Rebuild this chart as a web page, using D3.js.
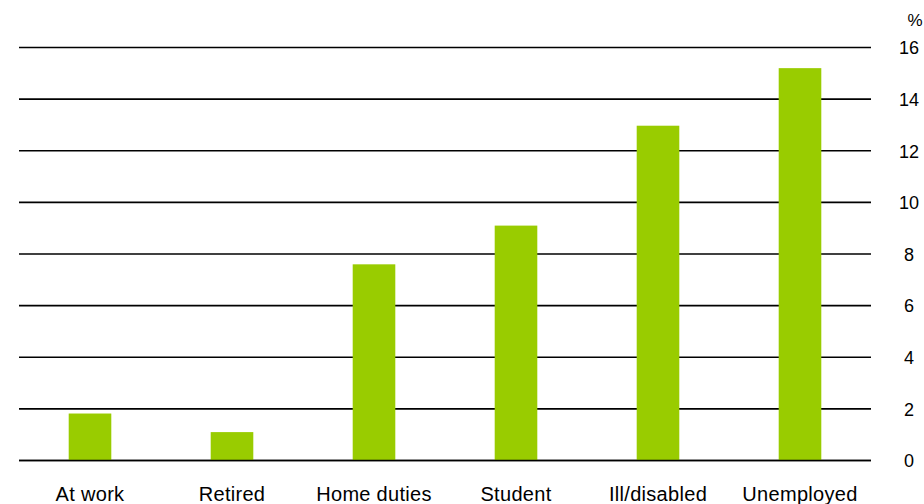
<!DOCTYPE html>
<html>
<head>
<meta charset="utf-8">
<script src="https://cdn.jsdelivr.net/npm/d3@7/dist/d3.min.js"></script>
<style>
  html, body { margin: 0; padding: 0; background: #fff; }
  svg { display: block; }
  text { font-family: "Liberation Sans", Arial, sans-serif; fill: #000; }
</style>
</head>
<body>
<svg id="chart" width="924" height="504"></svg>
<script>
const categories = ["At work", "Retired", "Home duties", "Student", "Ill/disabled", "Unemployed"];
const values = [1.82, 1.1, 7.6, 9.1, 12.97, 15.2];
const yTicks = [0, 2, 4, 6, 8, 10, 12, 14, 16];
const unitLabel = "%";

(function () {
const svg = d3.select("#chart");
const mLeft = 19, mRight = 871, mTop = 47.5, mBottom = 460.5;

const x = d3.scaleBand().domain(categories).range([mLeft, mRight]).paddingInner(0.7).paddingOuter(0.35);
const y = d3.scaleLinear().domain([0, 16]).range([mBottom, mTop]);

// gridlines
svg.append("g").selectAll("line").data(yTicks).join("line")
  .attr("x1", mLeft).attr("x2", mRight)
  .attr("y1", d => y(d)).attr("y2", d => y(d))
  .attr("stroke", "#000").attr("stroke-width", 1.6);

// bars
svg.append("g").selectAll("rect").data(values).join("rect")
  .attr("x", (d, i) => x(categories[i]))
  .attr("width", x.bandwidth())
  .attr("y", d => y(d))
  .attr("height", d => y(0) - y(d))
  .attr("fill", "#99cc00");

// redraw zero line on top
svg.append("line")
  .attr("x1", mLeft).attr("x2", mRight)
  .attr("y1", y(0)).attr("y2", y(0))
  .attr("stroke", "#000").attr("stroke-width", 1.6);

// right axis labels
const yAxis = d3.axisRight(y).tickValues(yTicks).tickSize(0).tickPadding(0).tickFormat(d3.format("d"));
const ga = svg.append("g").attr("transform", "translate(909,0)").call(yAxis);
ga.select(".domain").remove();
ga.selectAll("text").attr("text-anchor", "middle").attr("dy", "0.35em")
  .style("font-size", "18px").style("font-family", "'Liberation Sans', Arial, sans-serif");

svg.append("text").attr("x", 915).attr("y", 26).attr("text-anchor", "middle")
  .style("font-size", "17px").text(unitLabel);

// category labels
const xAxis = d3.axisBottom(x).tickSize(0).tickPadding(0);
const gx = svg.append("g").attr("transform", "translate(0,501)").call(xAxis);
gx.select(".domain").remove();
gx.selectAll("text").attr("dy", 0).attr("y", 0)
  .style("font-size", "20px").style("letter-spacing", "0.3px")
  .style("font-family", "'Liberation Sans', Arial, sans-serif");
})();
</script>
</body>
</html>
